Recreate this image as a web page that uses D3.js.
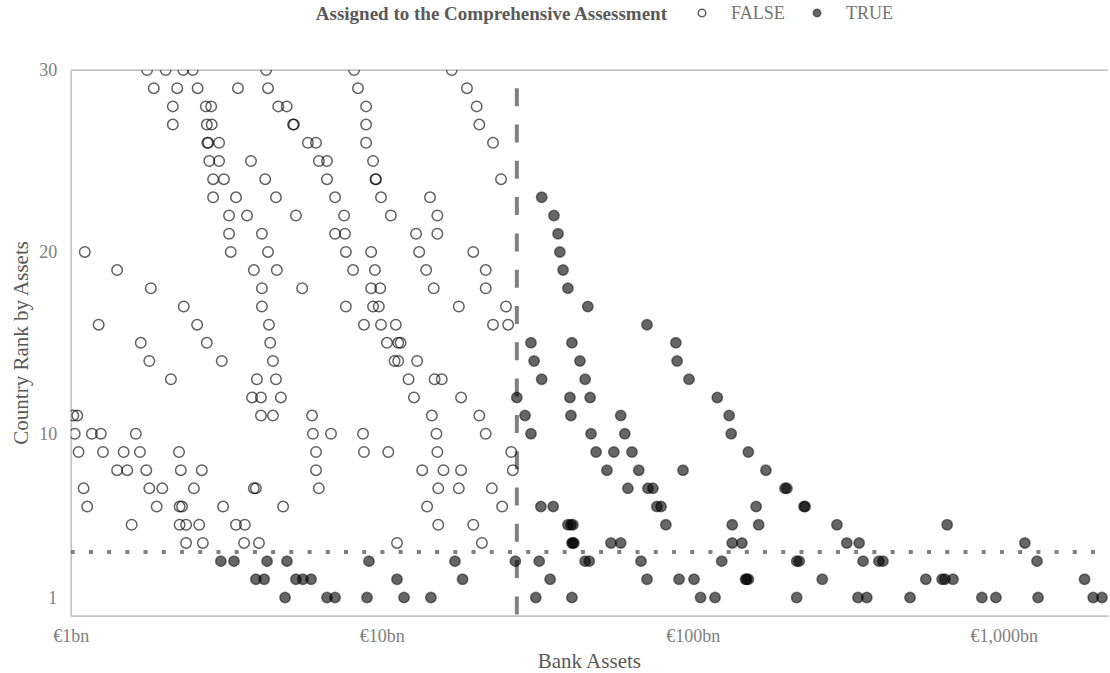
<!DOCTYPE html>
<html>
<head>
<meta charset="utf-8">
<script src="https://cdn.jsdelivr.net/npm/d3@7"></script>
<style>
    body { margin: 0; background: #fff; }
    svg text { font-family: "Palatino Linotype", "Book Antiqua", Palatino, "Liberation Serif", serif; }
</style>
</head>
<body>
<script>
//country rank of each row of points (top row first)
var rankRows = [30, 29, 28, 27, 26, 25, 24, 23, 22, 21, 20, 19, 18, 17, 16, 15, 14, 13, 12, 11, 10, 9, 8, 7, 6, 5, 4, 3, 2, 1];

//bank assets in €bn, not assigned to the assessment (one list per rank row)
var assetsFalse = [
    [1.76, 2.02, 2.30, 2.47, 4.25, 8.15, 16.8],
    [1.85, 2.20, 2.56, 3.45, 4.31, 8.39, 18.8],
    [2.13, 2.72, 2.83, 4.65, 4.95, 8.91, 20.2],
    [2.13, 2.74, 2.84, 5.19, 5.22, 8.91, 20.6],
    [2.75, 2.77, 3.00, 5.79, 6.15, 8.91, 22.8],
    [2.79, 3.00, 3.80, 6.28, 6.67, 9.38],
    [2.87, 3.11, 4.22, 6.67, 9.55, 9.59, 24.2],
    [2.87, 3.40, 4.57, 7.08, 9.95, 14.3],
    [3.23, 3.69, 5.30, 7.57, 10.7, 15.1],
    [3.23, 4.12, 7.08, 7.62, 12.9, 15.1],
    [1.11, 3.27, 4.31, 7.67, 9.25, 13.2, 19.7],
    [1.41, 3.88, 4.60, 8.09, 9.51, 13.9, 21.6],
    [1.81, 4.12, 5.55, 9.25, 9.89, 14.7, 21.6],
    [2.31, 4.12, 7.67, 9.38, 9.79, 17.7, 25.1],
    [1.23, 2.55, 4.34, 8.77, 9.95, 11.1, 22.8, 25.5],
    [1.68, 2.74, 4.38, 10.4, 11.3, 11.5],
    [1.79, 3.06, 4.47, 11.0, 11.3, 13.0],
    [2.10, 3.97, 4.57, 12.2, 14.8, 15.6],
    [3.83, 4.09, 4.74, 12.7, 18.0],
    [1.02, 1.05, 4.09, 4.47, 5.97, 14.5, 20.6],
    [1.03, 1.17, 1.25, 1.62, 6.01, 6.87, 8.71, 15.0, 21.6],
    [1.06, 1.27, 1.48, 1.67, 2.23, 6.15, 8.77, 10.5, 15.1, 26.1],
    [1.41, 1.52, 1.75, 2.26, 2.64, 6.15, 13.5, 15.8, 18.0, 26.4],
    [1.10, 1.79, 1.97, 2.49, 3.88, 3.94, 6.28, 15.2, 17.7, 22.6],
    [1.13, 1.89, 2.24, 2.28, 3.09, 4.82, 14.0, 24.4],
    [1.57, 2.24, 2.35, 2.59, 3.40, 3.63, 15.2, 19.7],
    [2.35, 2.66, 3.61, 4.03, 11.2, 21.0],
    [],
    [],
    []
];

//bank assets in €bn, assigned to the assessment
var assetsTrue = [
    [], [], [], [], [], [], [],
    [32.7],
    [35.8],
    [36.9],
    [37.4],
    [38.3],
    [39.7],
    [46.0],
    [71.3],
    [30.2, 40.9, 88.3],
    [30.9, 43.4, 89.1],
    [32.7, 45.1, 97.3],
    [27.2, 40.3, 46.8, 120],
    [28.9, 40.6, 58.7, 131],
    [30.2, 47.1, 60.5, 133],
    [48.9, 55.8, 63.8, 151],
    [53.0, 67.1, 93.1, 172],
    [61.9, 71.8, 74.5, 198, 201],
    [32.5, 35.6, 76.7, 79.1, 160, 228, 230],
    [39.7, 40.6, 41.2, 82.0, 134, 163, 291, 658],
    [40.9, 41.2, 41.5, 54.6, 58.7, 134, 144, 313, 343, 1170],
    [3.04, 3.35, 4.28, 4.96, 9.10, 17.2, 26.9, 32.1, 45.1, 46.5, 68.2, 124, 216, 220, 353, 397, 409, 1280],
    [3.94, 4.19, 5.30, 5.58, 5.93, 11.2, 18.2, 34.8, 71.3, 90.4, 101, 148, 149, 151, 261, 562, 634, 647, 687, 1820],
    [4.89, 6.67, 7.08, 8.97, 11.8, 14.4, 31.3, 40.9, 106, 118, 216, 340, 363, 500, 851, 944, 1290, 1940, 2070]
];

//axes
var xDomain = [1, 2165];
var yDomain = [0, 30];
var xTickValues = [1, 10, 100, 1000];
var xTickLabels = ["€1bn", "€10bn", "€100bn", "€1,000bn"];
var yTickValues = [1, 10, 20, 30];

//reference lines
var assetThreshold = 27.2; //dashed vertical line
var assetLineTop = 29;
var rankThreshold = 3.5; //dotted horizontal line

//legend
var legendTitle = "Assigned to the Comprehensive Assessment";
var legendLabels = ["FALSE", "TRUE"];

window.onload = setChart();

function setChart(){

    var width = 1110,
        height = 673;

    //plot edges
    var left = 70.7,
        right = 1108,
        top = 70,
        bottom = 615.7;

    var svg = d3.select("body")
        .append("svg")
        .attr("width", width)
        .attr("height", height);

    var x = d3.scaleLog()
        .domain(xDomain)
        .range([left, right]);

    var y = d3.scaleLinear()
        .domain(yDomain)
        .range([bottom, top]);

    //clip markers to the plot area
    svg.append("clipPath")
        .attr("id", "plotClip")
        .append("rect")
        .attr("x", left)
        .attr("y", top)
        .attr("width", right - left)
        .attr("height", bottom - top);

    //top border line
    svg.append("line")
        .attr("x1", left)
        .attr("x2", right)
        .attr("y1", y(yDomain[1]))
        .attr("y2", y(yDomain[1]))
        .style("stroke", "#c4c4c4")
        .style("stroke-width", 1.75);

    //x axis
    var xAxis = d3.axisBottom(x)
        .tickValues(xTickValues)
        .tickFormat(function(d, i){ return xTickLabels[i]; })
        .tickSize(0)
        .tickSizeOuter(0);

    var gx = svg.append("g")
        .attr("transform", "translate(0," + bottom + ")")
        .call(xAxis);

    gx.select(".domain")
        .style("stroke", "#c4c4c4")
        .style("stroke-width", 1.75);

    gx.selectAll("text")
        .attr("y", 26.5)
        .attr("dy", 0)
        .style("font-size", "18px")
        .style("fill", "#808080");

    //y axis
    var yAxis = d3.axisLeft(y)
        .tickValues(yTickValues)
        .tickSize(0)
        .tickSizeOuter(0)
        .tickPadding(13.5);

    var gy = svg.append("g")
        .attr("transform", "translate(" + left + ",0)")
        .call(yAxis);

    gy.select(".domain")
        .style("stroke", "#c4c4c4")
        .style("stroke-width", 1.75);

    gy.selectAll("text")
        .style("font-size", "18px")
        .style("fill", "#808080");

    //axis titles
    svg.append("text")
        .attr("x", (left + right) / 2)
        .attr("y", 668)
        .attr("text-anchor", "middle")
        .style("font-size", "21px")
        .style("fill", "#595959")
        .text("Bank Assets");

    svg.append("text")
        .attr("transform", "translate(28," + ((top + bottom) / 2) + ") rotate(-90)")
        .attr("text-anchor", "middle")
        .style("font-size", "21px")
        .style("fill", "#595959")
        .text("Country Rank by Assets");

    //reference lines
    svg.append("line")
        .attr("x1", x(assetThreshold))
        .attr("x2", x(assetThreshold))
        .attr("y1", y(assetLineTop))
        .attr("y2", y(yDomain[0]))
        .style("stroke", "#808080")
        .style("stroke-width", 4)
        .style("stroke-dasharray", "18,18.3");

    svg.append("line")
        .attr("x1", left)
        .attr("x2", right)
        .attr("y1", y(rankThreshold))
        .attr("y2", y(rankThreshold))
        .style("stroke", "#808080")
        .style("stroke-width", 4)
        .style("stroke-dasharray", "4,14.22");

    //flatten the rows into points
    var points = [];
    rankRows.forEach(function(rank, i){
        assetsFalse[i].forEach(function(v){
            points.push({rank: rank, assets: v, assigned: false});
        });
    });
    rankRows.forEach(function(rank, i){
        assetsTrue[i].forEach(function(v){
            points.push({rank: rank, assets: v, assigned: true});
        });
    });

    var plot = svg.append("g")
        .attr("clip-path", "url(#plotClip)");

    plot.selectAll(".dot")
        .data(points)
        .enter()
        .append("circle")
        .attr("class", "dot")
        .attr("cx", function(d){ return x(d.assets); })
        .attr("cy", function(d){ return y(d.rank); })
        .attr("r", 5.25)
        .style("fill", function(d){ return d.assigned ? "#000" : "none"; })
        .style("fill-opacity", 0.6)
        .style("stroke", "#000")
        .style("stroke-opacity", function(d){ return d.assigned ? 0.45 : 0.62; })
        .style("stroke-width", 1.5);

    //legend
    var legend = svg.append("g");

    legend.append("text")
        .attr("x", 667)
        .attr("y", 13)
        .attr("dy", "0.35em")
        .attr("text-anchor", "end")
        .style("font-size", "19px")
        .style("font-weight", "bold")
        .style("fill", "#595959")
        .text(legendTitle);

    var items = legend.selectAll(".item")
        .data(legendLabels)
        .enter()
        .append("g")
        .attr("class", "item")
        .attr("transform", function(d, i){ return "translate(" + (702 + i * 115) + ",13)"; });

    items.append("circle")
        .attr("r", 3.75)
        .style("fill", function(d, i){ return i ? "#000" : "none"; })
        .style("fill-opacity", 0.6)
        .style("stroke", "#000")
        .style("stroke-opacity", function(d, i){ return i ? 0.45 : 0.62; })
        .style("stroke-width", 1.5);

    items.append("text")
        .attr("x", 29)
        .attr("dy", "0.35em")
        .style("font-size", "18px")
        .style("fill", "#737373")
        .text(function(d){ return d; });
};
</script>
</body>
</html>
